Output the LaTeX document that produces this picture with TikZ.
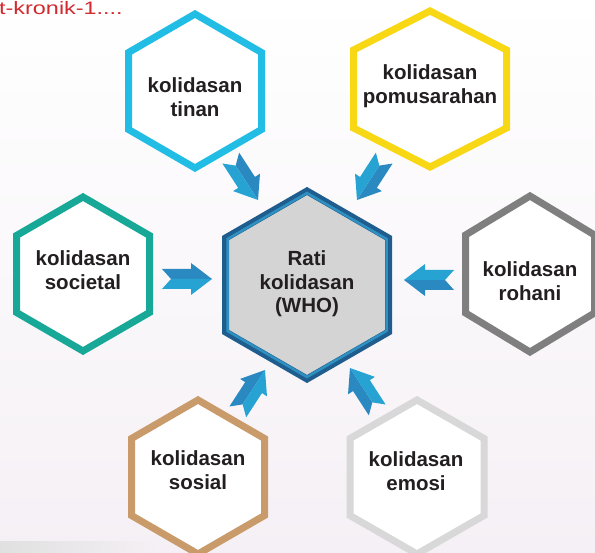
\documentclass[tikz,border=0pt]{standalone}
\usepackage{fontspec}
\setmainfont{Liberation Sans}
\usetikzlibrary{calc}
\definecolor{bgc}{HTML}{F5F0F5}
\definecolor{redc}{HTML}{D32A30}
\definecolor{txtc}{HTML}{231F20}
\definecolor{cyanc}{HTML}{22BDE5}
\definecolor{yellowc}{HTML}{F8D815}
\definecolor{tealc}{HTML}{17A898}
\definecolor{grayc}{HTML}{7F7F7F}
\definecolor{tanc}{HTML}{C99B6B}
\definecolor{lgrayc}{HTML}{D8D8D8}
\definecolor{navyc}{HTML}{1E5D8E}
\definecolor{midblue}{HTML}{2E8FC1}
\definecolor{arrdark}{HTML}{2A89C0}
\definecolor{arrlight}{HTML}{27A3D3}
\definecolor{centfill}{HTML}{D4D4D4}
\newcommand\hexshape[5]{%
  \draw[#5] (#1,#2-#4) -- (#1+#3,#2-#4/2) -- (#1+#3,#2+#4/2) -- (#1,#2+#4)
    -- (#1-#3,#2+#4/2) -- (#1-#3,#2-#4/2) -- cycle;}
\newcommand\blockarrow[3]{%
  \begin{scope}[shift={(#1,#2)}, rotate=#3]
    \fill[arrdark] (0,0) -- (-21,-16) -- (-21,-10) -- (-50,-10) -- (-41,0) -- cycle;
    \fill[arrlight] (0,0) -- (-21,16) -- (-21,10) -- (-50,10) -- (-41,0) -- cycle;
  \end{scope}}
\tikzset{
  hexline/.style={line width=7pt, line join=miter, fill=white},
  lbl/.style={align=center, text=txtc, inner sep=0pt,
    font=\bfseries\fontsize{20.5}{23.5}\selectfont},
}
\begin{document}
\begin{tikzpicture}[x=1pt,y=-1pt]
\useasboundingbox (0,0) rectangle (595,553);
\shade[top color=white, bottom color=bgc] (0,0) rectangle (595,553);
\shade[left color=black!12, right color=bgc] (0,541) rectangle (160,553);
% source text
\node[anchor=north west, text=redc, inner sep=0pt] (src) at (-1,1)
  {\scalebox{1.3}[1]{\fontsize{18}{18}\selectfont t-kronik-1....}};
% outer hexagons
\hexshape{195}{91}{66.5}{77}{hexline, draw=cyanc}
\hexshape{430}{89}{76.5}{78}{hexline, draw=yellowc}
\hexshape{83}{274}{66.5}{77}{hexline, draw=tealc}
\hexshape{530}{274}{64.5}{78}{hexline, draw=grayc}
\hexshape{198}{477}{66.5}{77}{hexline, draw=tanc}
\hexshape{417}{477}{67}{77}{hexline, draw=lgrayc}
% centre hexagon
\hexshape{307}{285}{81.5}{94}{line width=7pt, line join=miter, fill=centfill, draw=navyc}
\hexshape{307}{285}{79.5}{92}{line width=2.5pt, line join=miter, draw=midblue}
% labels
\node[lbl] (tinan) at (195,97) {kolidasan\\tinan};
\node[lbl] (pomus) at (430,86) {kolidasan\\pomusarahan};
\node[lbl] (societal) at (83,270) {kolidasan\\societal};
\node[lbl] (rohani) at (530,281) {kolidasan\\rohani};
\node[lbl] (sosial) at (198,470) {kolidasan\\sosial};
\node[lbl] (emosi) at (416,471) {kolidasan\\emosi};
\node[lbl] (who) at (307,284) {Rati\\kolidasan\\(WHO)};
% arrows
\blockarrow{258}{200}{-57}
\blockarrow{357}{200}{-123}
\blockarrow{212}{279}{0}
\blockarrow{404}{280}{180}
\blockarrow{265}{370}{57}
\blockarrow{350}{368}{123}
\end{tikzpicture}
\end{document}
